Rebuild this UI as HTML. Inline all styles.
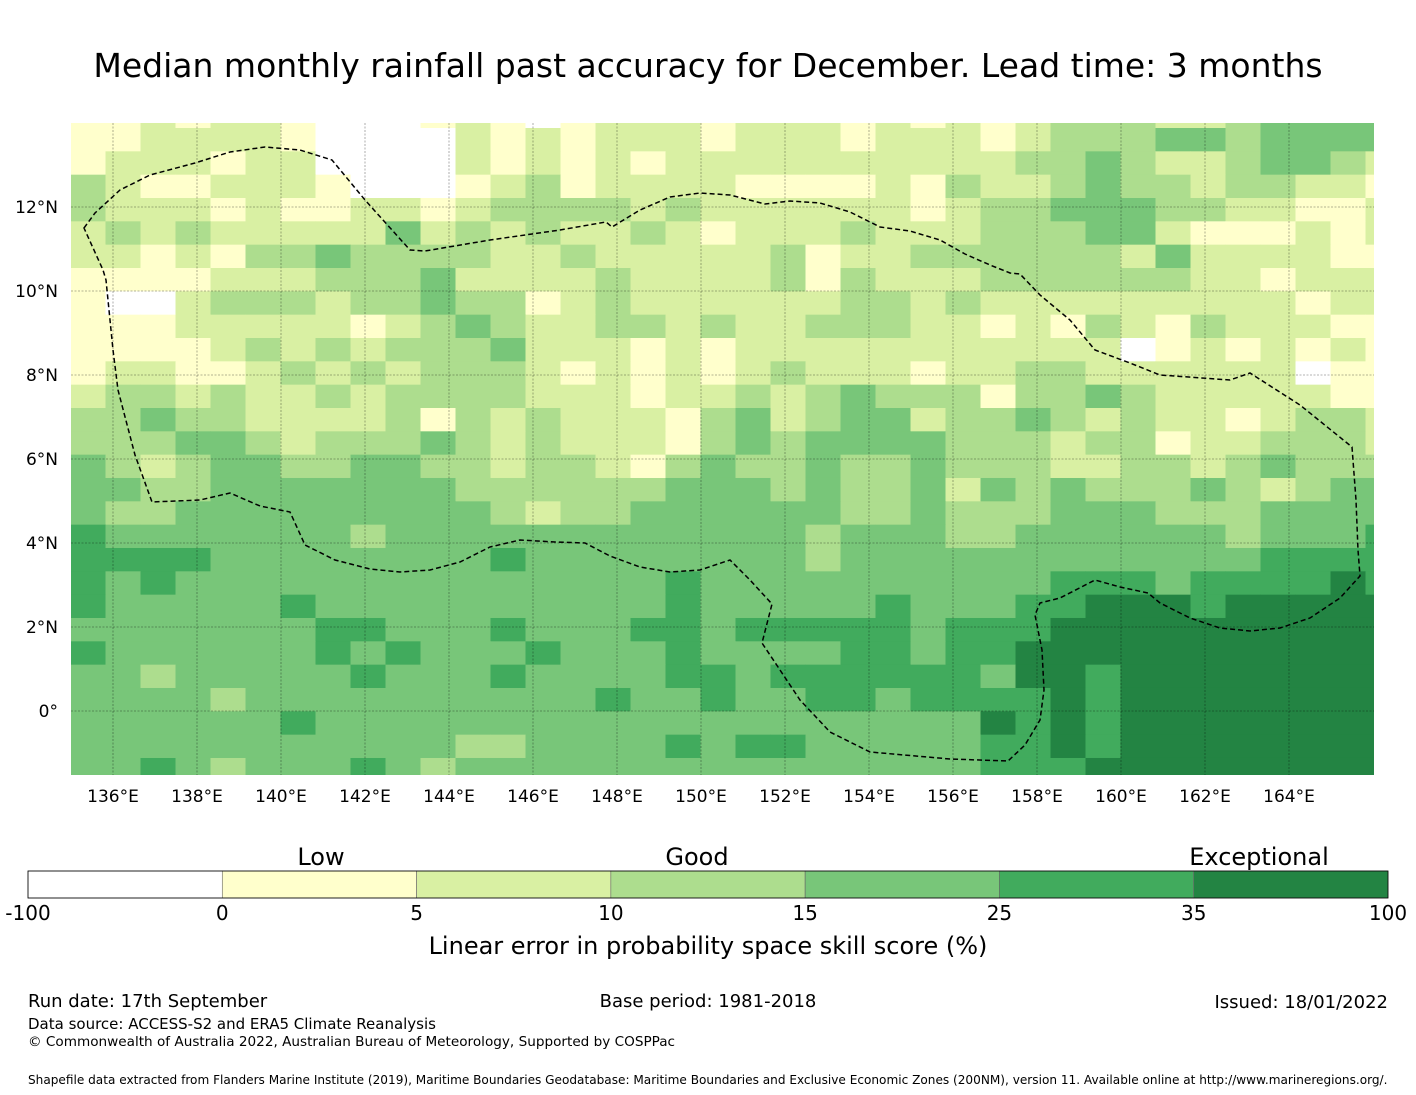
<!DOCTYPE html>
<html><head><meta charset="utf-8"><style>
body{margin:0;background:#fff;}
svg{display:block;font-family:"DejaVu Sans","Liberation Sans",sans-serif;}
</style></head><body>
<svg id="chart" width="1416" height="1095" viewBox="0 0 1416 1095">
<text x="708" y="77" text-anchor="middle" font-size="33" fill="#000">Median monthly rainfall past accuracy for December. Lead time: 3 months</text>
<defs><clipPath id="mapclip"><rect x="71" y="123" width="1303" height="652"/></clipPath></defs>
<g id="map" clip-path="url(#mapclip)"></g>
<g id="grid"></g>
<path id="eez" fill="none" stroke="#000" stroke-width="1.5" stroke-dasharray="5,3"/>
<g id="axes"></g>
<g id="cbar"></g>
<text x="321" y="865" text-anchor="middle" font-size="24">Low</text>
<text x="697" y="865" text-anchor="middle" font-size="24">Good</text>
<text x="1259" y="865" text-anchor="middle" font-size="24">Exceptional</text>
<text x="708" y="954" text-anchor="middle" font-size="24">Linear error in probability space skill score (%)</text>
<text x="28" y="1007" font-size="18">Run date: 17th September</text>
<text x="708" y="1007" text-anchor="middle" font-size="18">Base period: 1981-2018</text>
<text x="1388" y="1008" text-anchor="end" font-size="18">Issued: 18/01/2022</text>
<text x="28" y="1029" font-size="15">Data source: ACCESS-S2 and ERA5 Climate Reanalysis</text>
<text x="28" y="1046" font-size="13.6">© Commonwealth of Australia 2022, Australian Bureau of Meteorology, Supported by COSPPac</text>
<text x="28" y="1084" font-size="12.1">Shapefile data extracted from Flanders Marine Institute (2019), Maritime Boundaries Geodatabase: Maritime Boundaries and Exclusive Economic Zones (200NM), version 11. Available online at http://www.marineregions.org/.</text>
</svg>
<script>
const colors = ["#ffffff","#ffffcc","#d9f0a3","#addd8e","#78c679","#41ab5d","#238443"];
const cbarTicks = ["-100","0","5","10","15","25","35","100"];
const lonTicks = [136,138,140,142,144,146,148,150,152,154,156,158,160,162,164];
const latTicks = [12,10,8,6,4,2,0];
// skill category per grid cell, row 0 = northernmost
const rows = [
"11212210001210122212221212123332234444",
"11222210000212122212221222123334434444",
"12221220000212121222222222233432234432",
"32112221000123122221111213223433233221",
"32221211221233332322222212334443322112",
"23232222242323223212223222333442111212",
"22121334333322322222312233333324222211",
"11112223334222232222313222333333221222",
"10023332334331232222223323222222222122",
"11122222123432233232233322121321322211",
"11112323233342221212222222222201212121",
"12211232323332121212322212233222222011",
"23323223233332221223234333133432222211",
"33433222231323222134234423343232212332",
"33344323334323222134344443332331223332",
"43234433443323321343343343332233234333",
"44334444444333333444343342434333432344",
"43344444444432334444443343334443334444",
"54444444344444444444434443344444434445",
"55554444444454444444434444444444445555",
"54544444444444444544444444445554555565",
"54444454444444444544444544455666566666",
"44444445544454445545555545556666666666",
"54444445454445444544445545566666666666",
"44344444544454444554555555466566666666",
"44443444444444454454455455556566666666",
"44444454444444444444444444656566666666",
"44444444444334444545544444556566666666",
"44543444543444444444444444555666666666"
];
const NS="http://www.w3.org/2000/svg";
function mk(tag, attrs, parent){const e=document.createElementNS(NS,tag);for(const k in attrs)e.setAttribute(k,attrs[k]);parent.appendChild(e);return e;}
const x0=71, pxPerDeg=42, lonMin=135, latMax=14;
function xScale(lon){return x0+(lon-lonMin)*pxPerDeg;}
function yScale(lat){return 123+(latMax-lat)*pxPerDeg;}
const dLon=35/42, dLat=23.333/42;
const lonStart=lonMin-0.5/42;
const latRow1=latMax-5/42;
function rowTop(r){return r===0?latMax:latRow1-(r-1)*dLat;}
function rowBot(r){return latRow1-r*dLat;}
const map=document.getElementById('map');
rows.forEach((row,r)=>{
  for(let c=0;c<row.length;c++){
    const v=+row[c];
    const xa=xScale(lonStart+c*dLon), xb=xScale(lonStart+(c+1)*dLon);
    const ya=yScale(rowTop(r)), yb=yScale(rowBot(r));
    const el=mk('rect',{x:xa.toFixed(2),y:ya.toFixed(2),width:(xb-xa+0.4).toFixed(2),height:(yb-ya+0.4).toFixed(2),fill:colors[v]},map);
    
    
  }
});
const grid=document.getElementById('grid');
const axes=document.getElementById('axes');
lonTicks.forEach(l=>{
  const x=xScale(l);
  const ln=mk('line',{x1:x,y1:123,x2:x,y2:775,stroke:'#000','stroke-opacity':0.4,'stroke-width':0.8,'stroke-dasharray':'2,1.5'},grid);
  
  
  const t=mk('text',{x:x,y:802,'text-anchor':'middle','font-size':17},axes);
  t.textContent=l+'°E';
  
  
});
latTicks.forEach(l=>{
  const y=yScale(l);
  const ln=mk('line',{x1:71,y1:y,x2:1374,y2:y,stroke:'#000','stroke-opacity':0.4,'stroke-width':0.8,'stroke-dasharray':'2,1.5'},grid);
  
  
  const t=mk('text',{x:58,y:y+6,'text-anchor':'end','font-size':17},axes);
  t.textContent=l===0?'0°':l+'°N';
  
  
});
const eezPts=[[84,228],[95,213],[120,190],[150,175],[195,163],[230,152],[265,147],[300,150],[332,160],[365,200],[410,250],[425,251],[490,240],[560,230],[606,222],[612,227],[640,210],[670,197],[700,193],[730,195],[765,204],[790,201],[820,203],[850,212],[880,227],[910,231],[940,240],[965,254],[990,265],[1010,273],[1020,274],[1040,295],[1070,320],[1095,350],[1130,363],[1160,375],[1230,380],[1250,373],[1300,405],[1352,447],[1356,500],[1358,550],[1360,576],[1340,598],[1310,618],[1280,628],[1250,631],[1220,628],[1190,618],[1160,603],[1148,593],[1120,587],[1095,580],[1060,598],[1040,603],[1035,615],[1042,650],[1044,690],[1040,720],[1025,745],[1008,761],[950,759],[870,752],[830,732],[800,700],[762,643],[772,604],[750,580],[730,560],[700,570],[670,572],[640,567],[610,556],[585,543],[555,542],[520,540],[490,547],[460,562],[430,570],[400,572],[370,569],[335,560],[305,545],[290,512],[260,506],[230,493],[200,500],[152,502],[135,455],[118,390],[113,350],[106,280],[103,270]];
document.getElementById('eez').setAttribute('d','M'+eezPts.map(p=>p.join(',')).join(' L')+' Z');
const cbar=document.getElementById('cbar');
const cbX=28, cbW=1360, cbY=871, cbH=27, nSeg=colors.length;
colors.forEach((col,i)=>{
  const r=mk('rect',{x:cbX+i*cbW/nSeg,y:cbY,width:cbW/nSeg,height:cbH,fill:col,stroke:'#666','stroke-width':0.6},cbar);
  
  
});
mk('rect',{x:cbX,y:cbY,width:cbW,height:cbH,fill:'none',stroke:'#000','stroke-width':0.8},cbar);
cbarTicks.forEach((t,i)=>{
  const el=mk('text',{x:cbX+i*cbW/nSeg,y:920,'text-anchor':'middle','font-size':20},cbar);
  el.textContent=t;
  
  
});
</script>
</body></html>
